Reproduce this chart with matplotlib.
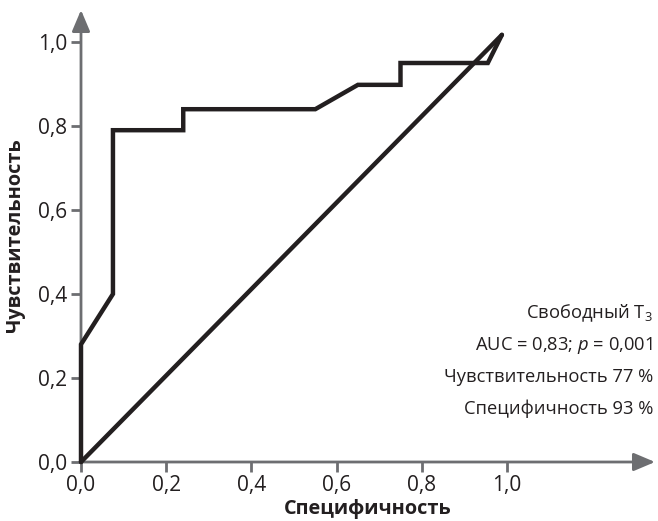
import matplotlib
matplotlib.use("Agg")
import matplotlib.pyplot as plt

# ROC curve data (x axis labelled "Специфичность", y axis sensitivity)
roc_x = [0.0, 0.0, 0.075, 0.075, 0.24, 0.24, 0.55, 0.65, 0.75, 0.75, 0.955, 0.988]
roc_y = [0.0, 0.28, 0.40, 0.79, 0.79, 0.84, 0.84, 0.898, 0.898, 0.95, 0.95, 1.017]
diag_x = [0.0, 0.988]
diag_y = [0.0, 1.017]
tick_vals = [0.0, 0.2, 0.4, 0.6, 0.8, 1.0]
tick_labels = ["0,0", "0,2", "0,4", "0,6", "0,8", "1,0"]
info_lines = ["Свободный T$_3$", "AUC = 0,83; $p$ = 0,001",
              "Чувствительность 77 %", "Специфичность 93 %"]
x_label = "Специфичность"
y_label = "Чувствительность"

plt.rcParams['font.family'] = ['Open Sans', 'DejaVu Sans']
plt.rcParams['mathtext.fontset'] = 'custom'
plt.rcParams['mathtext.rm'] = 'Open Sans'
plt.rcParams['mathtext.it'] = 'Open Sans:italic'

W, H = 658, 521
fig = plt.figure(figsize=(W / 100, H / 100), dpi=100)
x0px, x1px = 81, 655
y0px, y1px = 462, 10
ax = fig.add_axes([x0px / W, (H - y0px) / H, (x1px - x0px) / W, (y0px - y1px) / H])
xmax = (x1px - x0px) / 426.0
ymax = (y0px - y1px) / 420.0
ax.set_xlim(0, xmax)
ax.set_ylim(0, ymax)
for s in ax.spines.values():
    s.set_visible(False)

gray = "#6d6e71"
ink = "#231f20"

arrow_style = '-|>,head_length=1.3,head_width=0.55'
ax.annotate("", xy=(xmax, 0), xytext=(0, 0), xycoords='data',
            arrowprops=dict(arrowstyle=arrow_style, color=gray, lw=2.0,
                            shrinkA=0, shrinkB=0), annotation_clip=False)
ax.annotate("", xy=(0, ymax), xytext=(0, 0), xycoords='data',
            arrowprops=dict(arrowstyle=arrow_style, color=gray, lw=2.0,
                            shrinkA=0, shrinkB=0), annotation_clip=False)

ax.set_xticks(tick_vals)
ax.set_xticklabels(tick_labels)
ax.set_yticks(tick_vals)
ax.set_yticklabels(tick_labels)
ax.tick_params(axis='both', direction='out', length=7, width=2.0, color=gray,
               labelsize=15, labelcolor=ink)
ax.tick_params(axis='x', pad=2)
ax.tick_params(axis='y', pad=3)

ax.plot(diag_x, diag_y, color=ink, lw=3.2, solid_capstyle='round', clip_on=False, zorder=3)
ax.plot(roc_x, roc_y, color=ink, lw=3.2, solid_joinstyle='miter', solid_capstyle='round',
        clip_on=False, zorder=3)

ys = [313, 345, 377, 409]
for t, yp in zip(info_lines, ys):
    fig.text(653 / W, (H - yp) / H, t, ha='right', va='center', fontsize=13.2, color=ink)

fig.text(368 / W, (H - 509) / H, x_label, ha='center', va='center', fontsize=14.3,
         fontweight='bold', color=ink)
fig.text(15 / W, (H - 235) / H, y_label, ha='center', va='center', fontsize=14.3,
         fontweight='bold', color=ink, rotation=90)

fig.savefig("out.png", dpi=100)
